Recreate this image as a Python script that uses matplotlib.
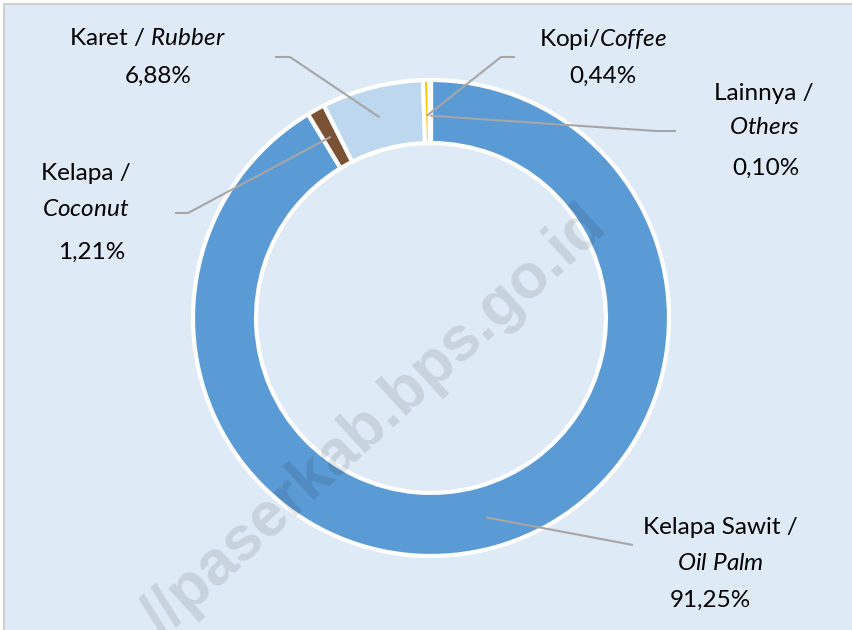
import matplotlib
matplotlib.use("Agg")
import matplotlib.pyplot as plt
import numpy as np

plt.rcParams["mathtext.fontset"] = "custom"
plt.rcParams["mathtext.rm"] = "Lato"
plt.rcParams["mathtext.it"] = "Lato:italic"

# ---- data ----
categories = ["Kelapa Sawit", "Kelapa", "Karet", "Kopi", "Lainnya"]
categories_en = ["Oil Palm", "Coconut", "Rubber", "Coffee", "Others"]
shares = [91.25, 1.21, 6.88, 0.44, 0.10]
share_labels = ["91,25%", "1,21%", "6,88%", "0,44%", "0,10%"]
colors = ["#5B9BD5", "#7B5136", "#BDD7EE", "#FFC000", "#F2F2F2"]

W, H = 852, 630
fig = plt.figure(figsize=(W / 100, H / 100), dpi=100)
fig.patch.set_facecolor("white")
ax = fig.add_axes([0, 0, 1, 1])

def py(y):
    return H - y

cx, cy, R = 431, py(318), 238
wedges, _ = ax.pie(shares, colors=colors, startangle=90, counterclock=False,
                   center=(cx, cy), radius=R, frame=True,
                   wedgeprops=dict(width=R * 0.265, edgecolor="white", linewidth=3))
ax.set_xlim(0, W)
ax.set_ylim(0, H)
ax.set_aspect("equal")
ax.axis("off")

# background panel with thin gray border on top/left
ax.add_patch(plt.Rectangle((4, -5), W + 10, py(4) + 5, facecolor="#DEEAF6",
                           edgecolor="#D0D0D0", linewidth=1.5, zorder=-1))

FONT = "Lato"
FS = 17.5
lc = "#A6A6A6"

def it(s):
    return r"$\mathit{" + s.replace(" ", r"\ ") + "}$"

# (text, x, y) per line; leader-line bends near the labels
label_pos = {
    0: dict(lines=[(categories[0] + " /", 720, 527), (it(categories_en[0]), 720, 563), (share_labels[0], 710, 600)],
            leader=[(633, 545)]),
    1: dict(lines=[(categories[1] + " /", 86, 173), (it(categories_en[1]), 86, 210), (share_labels[1], 92, 252)],
            leader=[(175, 213), (188, 213)]),
    2: dict(lines=[(categories[2] + " / " + it(categories_en[2]), 147, 38), (share_labels[2], 158, 76)],
            leader=[(275, 57), (290, 57)]),
    3: dict(lines=[(categories[3] + "/" + it(categories_en[3]), 603, 40), (share_labels[3], 603, 76)],
            leader=[(515, 57), (501, 57)]),
    4: dict(lines=[(categories[4] + " /", 764, 93), (it(categories_en[4]), 764, 128), (share_labels[4], 766, 168)],
            leader=[(676, 131), (656, 131)]),
}

total = sum(shares)
cum = 0
for i, s in enumerate(shares):
    mid = cum + s / 2
    cum += s
    ang = np.deg2rad(90 - 360 * mid / total)
    r_in = R * (0.87 if i not in (3, 4) else 0.85)
    ex, ey = cx + r_in * np.cos(ang), cy + r_in * np.sin(ang)
    info = label_pos[i]
    pts = [(x, py(y)) for x, y in info["leader"]] + [(ex, ey)]
    xs, ys = zip(*pts)
    ax.plot(xs, ys, color=lc, lw=1.5, solid_capstyle="butt", zorder=5)
    for text, x, y in info["lines"]:
        ax.text(x, py(y), text, ha="center", va="center", fontsize=FS,
                family=FONT, color="black", zorder=6)

# watermark
ax.text(374, py(422), "//paserkab.bps.go.id", rotation=42.5, rotation_mode="anchor",
        ha="center", va="center", fontsize=45, family="Liberation Sans", weight="bold",
        color="black", alpha=0.1, zorder=7)

fig.savefig("out.png", dpi=100, facecolor=fig.get_facecolor())
